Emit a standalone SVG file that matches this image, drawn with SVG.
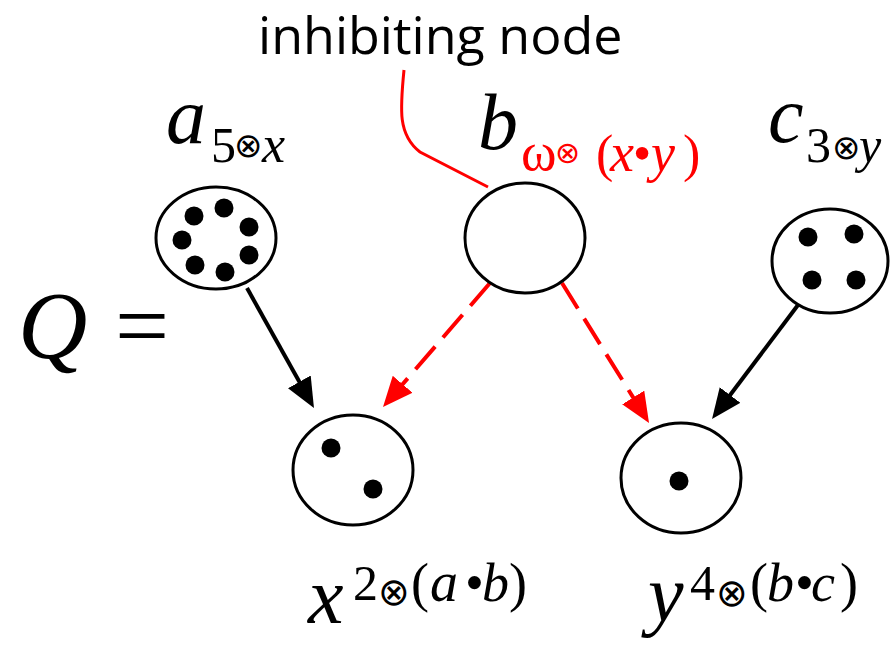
<svg xmlns="http://www.w3.org/2000/svg" width="894" height="645" viewBox="0 0 894 645">
<style>
.node{fill:#fff;stroke:#000;stroke-width:3}
.dot{fill:#000}
.edge{stroke:#000;stroke-width:4;fill:none}
.inh{stroke:#f00;stroke-width:4;fill:none;stroke-dasharray:30 12}
.s{font-family:"Liberation Serif","Times New Roman",serif}
.o{font-family:"DejaVu Sans",sans-serif}
</style>
<defs>
<marker id="ah" markerUnits="userSpaceOnUse" markerWidth="30" markerHeight="26" refX="4" refY="13" orient="auto" viewBox="0 0 30 26"><path d="M0,0 L30,13 L0,26 z" fill="#000"/></marker>
<marker id="ahr" markerUnits="userSpaceOnUse" markerWidth="30" markerHeight="26" refX="4" refY="13" orient="auto" viewBox="0 0 30 26"><path d="M0,0 L30,13 L0,26 z" fill="#f00"/></marker>
</defs>
<rect width="894" height="645" fill="#fff"/>

<g id="label-inhibiting">
<text x="258" y="54" font-family="'Open Sans', 'Liberation Sans', sans-serif" font-size="52" fill="#000">inhibiting node</text>
<path d="M404,70 C400,110 398,135 420,152 L488,187" stroke="#f00" stroke-width="3" fill="none"/>
</g>

<g id="connectors">
<line class="edge" x1="247" y1="288" x2="301.3" y2="385.3" marker-end="url(#ah)"/>
<line class="edge" x1="798" y1="305" x2="727.7" y2="398.2" marker-end="url(#ah)"/>
<line class="inh" x1="490" y1="283" x2="400" y2="387.3" marker-end="url(#ahr)"/>
<line class="inh" x1="562" y1="283" x2="635.3" y2="400.9" marker-end="url(#ahr)"/>
</g>

<g class="s">
<g id="Q">
<text x="18" y="358" font-size="96" font-style="italic">Q</text>
<text x="115" y="358" font-size="96">=</text>
</g>

<g id="node-a">
<ellipse class="node" cx="216" cy="238" rx="60" ry="51"/>
<circle class="dot" cx="194" cy="216" r="9.5"/>
<circle class="dot" cx="224" cy="208" r="9.5"/>
<circle class="dot" cx="249" cy="227" r="9.5"/>
<circle class="dot" cx="182" cy="240" r="9.5"/>
<circle class="dot" cx="249" cy="255" r="9.5"/>
<circle class="dot" cx="195" cy="265" r="9.5"/>
<circle class="dot" cx="225" cy="272" r="9.5"/>
<text x="166" y="143" font-size="80" font-style="italic">a</text>
<text x="211" y="162" font-size="50">5</text>
<text class="o" x="234" y="157" font-size="34">⊗</text>
<text x="262" y="162" font-size="52" font-style="italic">x</text>
</g>

<g id="node-b">
<ellipse class="node" cx="525" cy="238" rx="60" ry="55"/>
<text x="478" y="149" font-size="80" font-style="italic">b</text>
<g fill="#f00">
<text x="521" y="170" font-size="54">ω</text>
<text class="o" x="555" y="163" font-size="30">⊗</text>
<text x="596" y="171" font-size="52">(</text>
<text x="610" y="171" font-size="54" font-style="italic">x</text>
<text x="633" y="171" font-size="52">•</text>
<text x="651" y="171" font-size="54" font-style="italic">y</text>
<text x="683" y="171" font-size="52">)</text>
</g>
</g>

<g id="node-c">
<ellipse class="node" cx="830" cy="261" rx="58" ry="52"/>
<circle class="dot" cx="808" cy="237" r="9.5"/>
<circle class="dot" cx="854" cy="234" r="9.5"/>
<circle class="dot" cx="812" cy="280" r="9.5"/>
<circle class="dot" cx="856" cy="280" r="9.5"/>
<text x="768" y="142" font-size="80" font-style="italic">c</text>
<text x="806" y="162" font-size="50">3</text>
<text class="o" x="832" y="159" font-size="34">⊗</text>
<text x="859" y="162" font-size="50" font-style="italic">y</text>
</g>

<g id="node-x">
<ellipse class="node" cx="353" cy="470" rx="60" ry="55"/>
<circle class="dot" cx="331" cy="448" r="9.5"/>
<circle class="dot" cx="373" cy="489" r="9.5"/>
<text x="308" y="623" font-size="80" font-style="italic">x</text>
<text x="353" y="600" font-size="50">2</text>
<text class="o" x="378" y="605" font-size="38">⊗</text>
<text x="411" y="601" font-size="54">(</text>
<text x="430" y="601" font-size="56" font-style="italic">a</text>
<text x="465" y="601" font-size="54">•</text>
<text x="482" y="601" font-size="54" font-style="italic">b</text>
<text x="509" y="601" font-size="54">)</text>
</g>

<g id="node-y">
<ellipse class="node" cx="681" cy="478" rx="60" ry="55"/>
<circle class="dot" cx="679" cy="481" r="9.5"/>
<text x="648" y="621" font-size="80" font-style="italic">y</text>
<text x="690" y="600" font-size="50">4</text>
<text class="o" x="716" y="606" font-size="38">⊗</text>
<text x="750" y="601" font-size="54">(</text>
<text x="767" y="601" font-size="54" font-style="italic">b</text>
<text x="795" y="601" font-size="54">•</text>
<text x="811" y="601" font-size="54" font-style="italic">c</text>
<text x="840" y="601" font-size="54">)</text>
</g>
</g>
</svg>
